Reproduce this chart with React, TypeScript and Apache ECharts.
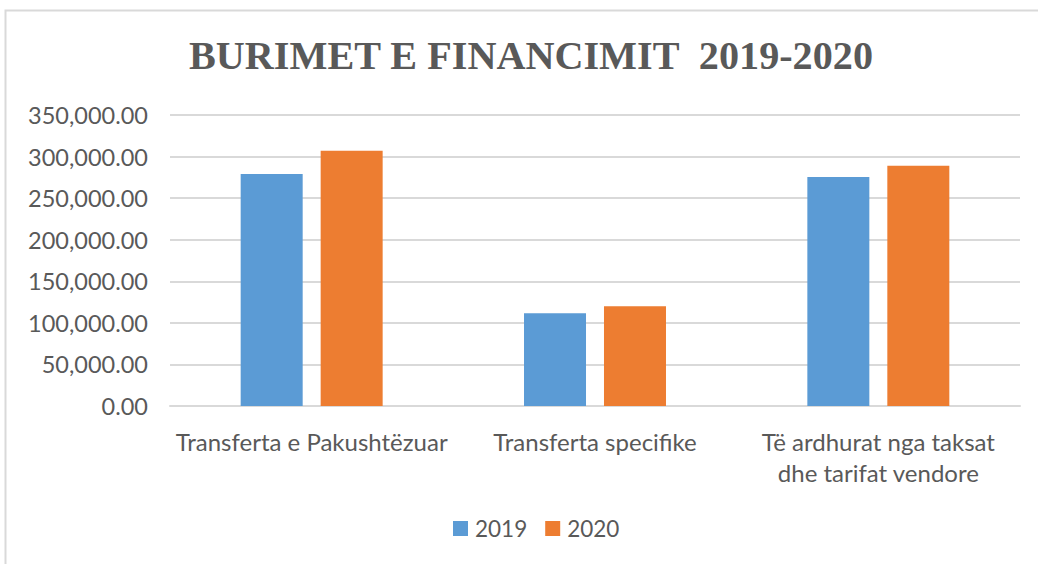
import React, { useEffect, useRef } from "react";
import * as echarts from "echarts";

const categories = [
  "Transferta e Pakushtëzuar",
  "Transferta specifike",
  "Të ardhurat nga taksat\ndhe tarifat vendore",
];
const seriesNames = ["2019", "2020"];
const values2019 = [279000, 111500, 275500];
const values2020 = [307000, 120000, 289000];
const colors = ["#5B9BD5", "#ED7D31"];
const titleText = "BURIMET E FINANCIMIT  2019-2020";

const fmt = (v: number) =>
  v.toLocaleString("en-US", { minimumFractionDigits: 2, maximumFractionDigits: 2 });

export default function App() {
  const ref = useRef<HTMLDivElement>(null);
  useEffect(() => {
    if (!ref.current) return;
    const chart = echarts.init(ref.current, null, { renderer: "svg" });
    chart.setOption({
      animation: false,
      backgroundColor: "#ffffff",
      graphic: [
        {
          type: "rect",
          shape: { x: 5.5, y: 10.5, width: 1060, height: 600 },
          style: { fill: "none", stroke: "#D9D9D9", lineWidth: 2 },
          silent: true,
        },
      ],
      title: {
        text: titleText,
        left: 184,
        top: 30,
        textStyle: {
          fontFamily: "Liberation Serif",
          fontWeight: "bold",
          fontSize: 40.2,
          color: "#595959",
        },
      },
      legend: {
        bottom: 19,
        left: 448,
        itemWidth: 15,
        itemHeight: 15,
        itemGap: 18,
        icon: "rect",
        textStyle: {
          fontFamily: "Lato",
          fontSize: 22.5,
          color: "#595959",
          padding: [0, 0, 0, 2],
        },
        data: seriesNames,
      },
      grid: { left: 170, right: 18, top: 115, bottom: 158, containLabel: false },
      xAxis: {
        type: "category",
        data: categories,
        axisLine: { lineStyle: { color: "#D9D9D9", width: 2 } },
        axisTick: { show: false },
        axisLabel: {
          margin: 20,
          fontFamily: "Lato",
          fontSize: 24,
          color: "#595959",
          lineHeight: 31,
          interval: 0,
        },
      },
      yAxis: {
        type: "value",
        min: 0,
        max: 350000,
        interval: 50000,
        axisLine: { show: false },
        axisTick: { show: false },
        splitLine: { lineStyle: { color: "#D9D9D9", width: 2 } },
        axisLabel: {
          margin: 22,
          fontFamily: "Lato",
          fontSize: 23.5,
          color: "#595959",
          formatter: (v: number) => fmt(v),
        },
      },
      series: [
        {
          name: seriesNames[0],
          type: "bar",
          data: values2019,
          barWidth: 62,
          barGap: "29%",
          itemStyle: { color: colors[0] },
        },
        {
          name: seriesNames[1],
          type: "bar",
          data: values2020,
          barWidth: 62,
          barGap: "29%",
          itemStyle: { color: colors[1] },
        },
      ],
    });
    return () => chart.dispose();
  }, []);
  return (
    <div
      ref={ref}
      style={{ position: "fixed", left: 0, top: 0, width: 1038, height: 564 }}
    />
  );
}
